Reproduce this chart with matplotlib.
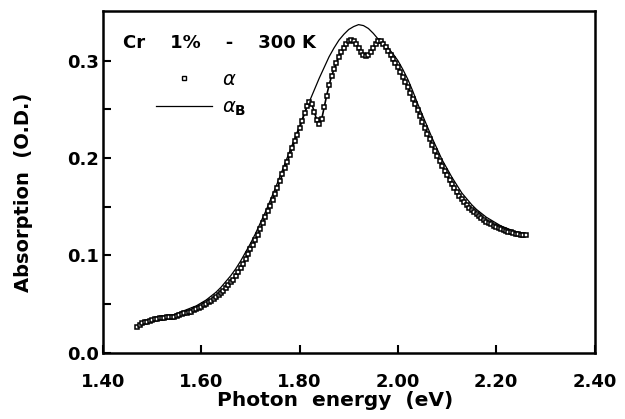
import numpy as np
import matplotlib
matplotlib.use("Agg")
import matplotlib.pyplot as plt
from matplotlib.lines import Line2D

plt.rcParams['font.family'] = ['DejaVu Sans']
plt.rcParams['mathtext.fontset'] = 'dejavusans'

# alpha (measured), sampled every 0.005 eV from 1.470 to 2.260 eV
alpha = [
    0.026, 0.028, 0.030, 0.031, 0.031, 0.032, 0.033, 0.034, 0.034, 0.035,
    0.035, 0.035, 0.036, 0.037, 0.037, 0.037, 0.038, 0.039, 0.040, 0.041,
    0.041, 0.042, 0.042, 0.044, 0.045, 0.046, 0.047, 0.049, 0.050, 0.052,
    0.053, 0.055, 0.057, 0.059, 0.061, 0.063, 0.066, 0.069, 0.072, 0.075,
    0.079, 0.083, 0.087, 0.091, 0.096, 0.101, 0.106, 0.111, 0.116, 0.121,
    0.127, 0.133, 0.139, 0.145, 0.151, 0.157, 0.163, 0.169, 0.176, 0.183,
    0.190, 0.196, 0.203, 0.210, 0.217, 0.224, 0.231, 0.238, 0.246, 0.253,
    0.257, 0.255, 0.247, 0.239, 0.235, 0.240, 0.252, 0.264, 0.275, 0.284,
    0.291, 0.298, 0.304, 0.309, 0.313, 0.317, 0.320, 0.321, 0.320, 0.317,
    0.313, 0.309, 0.306, 0.305, 0.306, 0.309, 0.313, 0.317, 0.320, 0.320,
    0.317, 0.314, 0.310, 0.306, 0.302, 0.298, 0.293, 0.288, 0.283, 0.278,
    0.273, 0.267, 0.261, 0.255, 0.249, 0.243, 0.237, 0.231, 0.225, 0.219,
    0.213, 0.207, 0.202, 0.197, 0.192, 0.187, 0.182, 0.177, 0.173, 0.169,
    0.165, 0.161, 0.158, 0.155, 0.152, 0.149, 0.146, 0.144, 0.142, 0.140,
    0.138, 0.136, 0.134, 0.133, 0.132, 0.130, 0.129, 0.128, 0.127, 0.126,
    0.125, 0.124, 0.124, 0.123, 0.122, 0.122, 0.121, 0.121, 0.121,
]
alpha_energy = np.linspace(1.47, 2.26, len(alpha))

# alpha_B (fitted band), sampled every 0.01 eV from 1.47 to 2.26 eV
alpha_b = [
    0.027, 0.029, 0.031, 0.032, 0.034, 0.035, 0.037, 0.038, 0.040, 0.042,
    0.044, 0.046, 0.048, 0.051, 0.054, 0.058, 0.062, 0.067, 0.073, 0.079,
    0.086, 0.094, 0.103, 0.112, 0.122, 0.133, 0.144, 0.156, 0.168, 0.181,
    0.194, 0.207, 0.220, 0.233, 0.246, 0.258, 0.270, 0.282, 0.293, 0.304,
    0.313, 0.321, 0.327, 0.332, 0.335, 0.337, 0.336, 0.333, 0.328, 0.322,
    0.318, 0.313, 0.307, 0.300, 0.291, 0.281, 0.269, 0.256, 0.244, 0.232,
    0.220, 0.209, 0.198, 0.189, 0.180, 0.172, 0.164, 0.158, 0.152, 0.147,
    0.143, 0.139, 0.136, 0.133, 0.130, 0.128, 0.126, 0.124, 0.123, 0.122,
]
alpha_b_energy = np.linspace(1.47, 2.26, len(alpha_b))

x_ticks = [1.40, 1.60, 1.80, 2.00, 2.20, 2.40]
x_tick_labels = ["1.40", "1.60", "1.80", "2.00", "2.20", "2.40"]
y_ticks = [0.0, 0.1, 0.2, 0.3]
y_tick_labels = ["0.0", "0.1", "0.2", "0.3"]
y_minor = [0.05, 0.15, 0.25]

fig = plt.figure(figsize=(6.25, 4.19), dpi=100)
ax = fig.add_axes([103 / 625, 1 - 352.5 / 419, 491.5 / 625, 341.5 / 419])

ax.plot(alpha_b_energy, alpha_b, color='black', lw=0.9, zorder=2)
ax.plot(alpha_energy, alpha, ls='-', lw=1.2, color='black', marker='s',
        ms=3.4, mfc='white', mec='black', mew=1.1, zorder=3)

ax.set_xlim(1.40, 2.40)
ax.set_ylim(0.0, 0.351)
ax.set_xticks(x_ticks)
ax.set_xticklabels(x_tick_labels)
ax.set_yticks(y_ticks)
ax.set_yticklabels(y_tick_labels)
ax.set_yticks(y_minor, minor=True)

for s in ax.spines.values():
    s.set_linewidth(1.8)

ax.tick_params(axis='both', which='both', direction='in', length=5.8,
               width=1.5, top=False, right=False)
ax.tick_params(axis='x', which='major', pad=15, labelsize=13)
ax.tick_params(axis='y', which='major', pad=3, labelsize=13)
for lab in ax.get_xticklabels() + ax.get_yticklabels():
    lab.set_fontweight('bold')

ax.set_xlabel("Photon  energy  (eV)", fontsize=14.5, fontweight='bold')
ax.xaxis.set_label_coords(0.472, -0.112)
ax.set_ylabel("Absorption  (O.D.)", fontsize=14.0, fontweight='bold')
ax.yaxis.set_label_coords(-0.143, 0.47)

ax.text(0.040, 0.906, "Cr    1%    -    300 K", transform=ax.transAxes,
        fontsize=13, fontweight='bold', ha='left', va='center')

handles = [
    Line2D([], [], ls='none', marker='s', ms=3.0, mfc='white', mec='black', mew=1.0),
    Line2D([], [], color='black', lw=0.9),
]
leg = ax.legend(handles, [r'$\alpha$', r'$\alpha_{\mathbf{B}}$'],
                loc='upper left', bbox_to_anchor=(0.108, 0.828),
                frameon=False, fontsize=14, handlelength=2.9,
                handletextpad=0.5, labelspacing=0.45, borderpad=0.0,
                borderaxespad=0.0)

fig.savefig("out.png", dpi=100)
